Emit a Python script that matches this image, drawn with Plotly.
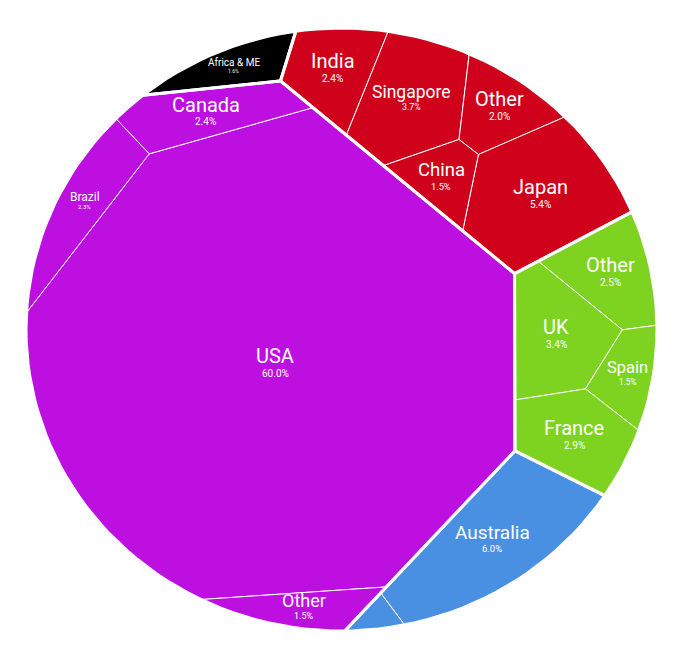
import numpy as np
import plotly.graph_objects as go

# share of total (%) per country, grouped by region
region_names = ["Americas", "Asia", "Europe", "Oceania", "Africa & ME"]
region_colors = ["#BD10E0", "#D0021B", "#7ED321", "#4A90E2", "#000000"]

americas_names = ["USA", "Canada", "Brazil", "Other"]
americas_values = [60.0, 2.4, 2.3, 1.5]
asia_names = ["India", "Singapore", "Other", "Japan", "China"]
asia_values = [2.4, 3.7, 2.0, 5.4, 1.5]
europe_names = ["Other", "UK", "Spain", "France"]
europe_values = [2.5, 3.4, 1.5, 2.9]
oceania_names = ["Australia", "Other"]
oceania_values = [6.0, 0.4]
africa_names = ["Africa & ME"]
africa_values = [1.6]

children = {
    "Americas": (americas_names, americas_values),
    "Asia": (asia_names, asia_values),
    "Europe": (europe_names, europe_values),
    "Oceania": (oceania_names, oceania_values),
    "Africa & ME": (africa_names, africa_values),
}

# seed directions (degrees) used to start the voronoi iterations
region_seed_angles = [196, 57, -5, -58, 115]
child_seed_angles = {
    "Americas": [18, 118, 192, -71],
    "Asia": [185, 105, 30, -35, -120],
    "Europe": [70, 130, -18, -97],
    "Oceania": [30, -148],
    "Africa & ME": [0],
}

RX, RY = 315.5, 301.5  # pixel radii of the drawn ellipse


def area_centroid(p):
    x, y = p[:, 0], p[:, 1]
    x2, y2 = np.roll(x, -1), np.roll(y, -1)
    cr = x * y2 - x2 * y
    a = cr.sum() / 2
    if abs(a) < 1e-14:
        return 0.0, p.mean(axis=0)
    cx = ((x + x2) * cr).sum() / (6 * a)
    cy = ((y + y2) * cr).sum() / (6 * a)
    return a, np.array([cx, cy])


def clip(poly, a, b):
    f = poly @ a - b
    inside = f <= 0
    if inside.all():
        return poly
    if not inside.any():
        return poly[:0]
    out = []
    n = len(poly)
    for k in range(n):
        k2 = (k + 1) % n
        if inside[k]:
            out.append(poly[k])
        if f[k] * f[k2] < 0:
            t = f[k] / (f[k] - f[k2])
            out.append(poly[k] + t * (poly[k2] - poly[k]))
    return np.array(out)


def ray_dist(poly, c, d):
    best = np.inf
    n = len(poly)
    for k in range(n):
        p, q = poly[k], poly[(k + 1) % n]
        e = q - p
        den = d[0] * e[1] - d[1] * e[0]
        if abs(den) < 1e-12:
            continue
        diff = p - c
        t = (diff[0] * e[1] - diff[1] * e[0]) / den
        u = (diff[0] * d[1] - diff[1] * d[0]) / den
        if t > 0 and -1e-9 <= u <= 1 + 1e-9:
            best = min(best, t)
    return best


def power_cells(poly, sites, w):
    n = len(sites)
    cells = []
    areas = np.zeros(n)
    cents = sites.copy()
    derivs = np.zeros(n)
    for i in range(n):
        cell = poly
        lines = []
        for j in range(n):
            if j == i:
                continue
            a = 2 * (sites[j] - sites[i])
            b = sites[j] @ sites[j] - sites[i] @ sites[i] - w[j] + w[i]
            lines.append((a, b))
            cell = clip(cell, a, b)
            if len(cell) < 3:
                break
        if len(cell) < 3:
            cells.append(None)
            continue
        A, C = area_centroid(cell)
        areas[i], cents[i] = A, C
        seg = np.linalg.norm(np.roll(cell, -1, axis=0) - cell, axis=1)
        for a, b in lines:
            na = np.linalg.norm(a)
            r = np.abs(cell @ a - b) / na
            on = (r < 1e-9) & (np.roll(r, -1) < 1e-9)
            derivs[i] += seg[on].sum() / na
        cells.append(cell)
    return cells, areas, cents, derivs


def cap_weights(w, sites):
    w = w - w.min()
    for i in range(len(sites)):
        d2 = np.sum((sites - sites[i]) ** 2, axis=1)
        d2[i] = np.inf
        w[i] = min(w[i], 0.99 * d2.min())
    return w


def voronoi_map(poly, values, angles, iters=300, tol=0.01):
    vals = np.asarray(values, float)
    if len(vals) == 1:
        return [poly]
    total, c0 = area_centroid(poly)
    share = vals / vals.sum()
    target = share * total
    sites = []
    for s, ang in zip(share, angles):
        d = np.array([np.cos(np.radians(ang)), np.sin(np.radians(ang))])
        sites.append(c0 + d * ray_dist(poly, c0, d) * (1 - np.sqrt(s)) * 0.9)
    sites = np.array(sites)
    w = np.zeros(len(vals))
    for _ in range(iters):
        cells, A, C, D = power_cells(poly, sites, w)
        if np.abs(A - target).sum() / (2 * total) < tol:
            break
        sites = np.where((A > 0)[:, None], C, sites)
        w = cap_weights(w, sites)
        cells, A, C, D = power_cells(poly, sites, w)
        step = np.where(D > 0, (target - A) / np.where(D > 0, D, 1), 0.0)
        w = cap_weights(w + 0.8 * step, sites)
    cells, A, C, D = power_cells(poly, sites, w)
    return cells


def inside(poly, pts):
    for k in range(len(poly)):
        p, q = poly[k], poly[(k + 1) % len(poly)]
        e = q - p
        cr = e[0] * (pts[:, 1] - p[1]) - e[1] * (pts[:, 0] - p[0])
        if (cr < 0).any():
            return False
    return True


def fit_font(cell_px, c_px, name, pct):
    fs = 20.0
    while fs >= 6:
        pfs = 0.5 * fs
        bw = max(0.56 * fs * len(name), 0.55 * pfs * len(pct)) / 2
        bh = (fs + pfs) / 2
        box = c_px + np.array([[-bw, -bh], [bw, -bh], [bw, bh], [-bw, bh]])
        if inside(cell_px, box):
            return fs
        fs -= 0.5
    return 6.0


theta = np.linspace(0, 2 * np.pi, 160, endpoint=False)
circle = np.column_stack([np.cos(theta), np.sin(theta)])

region_values = [sum(children[r][1]) for r in region_names]
region_cells = voronoi_map(circle, region_values, region_seed_angles)

fig = go.Figure()
annotations = []
scale = np.array([RX, RY])
for rname, color, rcell in zip(region_names, region_colors, region_cells):
    names, values = children[rname]
    cells = voronoi_map(rcell, values, child_seed_angles[rname])
    for name, val, cell in zip(names, values, cells):
        if cell is None:
            continue
        xs = np.append(cell[:, 0], cell[0, 0])
        ys = np.append(cell[:, 1], cell[0, 1])
        fig.add_trace(go.Scatter(
            x=xs, y=ys, mode="lines", fill="toself", fillcolor=color,
            line=dict(color="white", width=1), hoverinfo="skip",
        ))
        if val < 1.0:  # too small to label
            continue
        _, c = area_centroid(cell)
        pct = f"{val:.1f}%"
        fs = fit_font(cell * scale, c * scale, name, pct)
        pfs = 0.5 * fs
        annotations.append(dict(x=c[0], y=c[1], text=name, showarrow=False,
                                yshift=0.42 * fs, borderpad=0,
                                font=dict(family="Roboto", size=fs, color="white")))
        annotations.append(dict(x=c[0], y=c[1], text=pct, showarrow=False,
                                yshift=-0.45 * fs, borderpad=0,
                                font=dict(family="Roboto", size=pfs, color="white")))

for rcell in region_cells:
    xs = np.append(rcell[:, 0], rcell[0, 0])
    ys = np.append(rcell[:, 1], rcell[0, 1])
    fig.add_trace(go.Scatter(x=xs, y=ys, mode="lines",
                             line=dict(color="white", width=3), hoverinfo="skip"))

fig.update_layout(
    width=682, height=660,
    margin=dict(l=0, r=0, t=0, b=0),
    paper_bgcolor="white", plot_bgcolor="white",
    showlegend=False,
    annotations=annotations,
    xaxis=dict(visible=False, range=[-341.5 / RX, 340.5 / RX], fixedrange=True),
    yaxis=dict(visible=False, range=[-330.5 / RY, 329.5 / RY], fixedrange=True),
)

fig.write_html("out.html", config={"displayModeBar": False},
               post_script="document.body.style.margin='0';")
